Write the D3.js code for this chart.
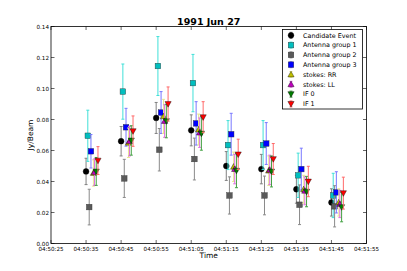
<!DOCTYPE html>
<html>
<head>
<meta charset="utf-8">
<script src="https://cdn.jsdelivr.net/npm/d3@7"></script>
<style>
  body { margin: 0; background: #fff; }
  svg text { font-family: "DejaVu Sans", sans-serif; }
</style>
</head>
<body>
<svg id="chart" width="407" height="271"></svg>
<script>
// seconds after 04:50:00 for each measurement group
var times = [35, 45, 55, 65, 75, 85, 95, 105];
var tickSecs = [25, 35, 45, 55, 65, 75, 85, 95, 105, 115];
var tickLabels = ["04:50:25", "04:50:35", "04:50:45", "04:50:55", "04:51:05",
                  "04:51:15", "04:51:25", "04:51:35", "04:51:45", "04:51:55"];
var yTicks = [0, 0.02, 0.04, 0.06, 0.08, 0.10, 0.12, 0.14];

var names = ["Candidate Event", "Antenna group 1", "Antenna group 2", "Antenna group 3",
             "stokes: RR", "stokes: LL", "IF 0", "IF 1"];

var candVal = [0.0465, 0.066, 0.081, 0.073, 0.050, 0.048, 0.035, 0.0265];
var candErr = [0.0085, 0.0095, 0.010, 0.010, 0.0093, 0.0095, 0.009, 0.0088];
var ant1Val = [0.0695, 0.098, 0.1145, 0.1035, 0.0635, 0.0635, 0.044, 0.031];
var ant1Err = [0.0165, 0.0178, 0.019, 0.0185, 0.0158, 0.0158, 0.0143, 0.0143];
var ant2Val = [0.0235, 0.042, 0.0605, 0.0545, 0.031, 0.031, 0.025, 0.024];
var ant2Err = [0.0115, 0.0123, 0.0137, 0.0135, 0.012, 0.0125, 0.0128, 0.0133];
var ant3Val = [0.0595, 0.075, 0.0845, 0.0775, 0.0705, 0.0645, 0.048, 0.033];
var ant3Err = [0.0108, 0.0122, 0.0135, 0.014, 0.0135, 0.0135, 0.0135, 0.0133];
var rrVal = [0.0455, 0.065, 0.082, 0.0735, 0.0495, 0.047, 0.035, 0.0265];
var rrErr = [0.0085, 0.0095, 0.011, 0.010, 0.0095, 0.0095, 0.009, 0.0088];
var llVal = [0.046, 0.066, 0.079, 0.0715, 0.048, 0.0475, 0.034, 0.0255];
var llErr = [0.0085, 0.0095, 0.0105, 0.0095, 0.0095, 0.0095, 0.009, 0.0088];
var if0Val = [0.0465, 0.0665, 0.079, 0.071, 0.047, 0.0465, 0.0335, 0.0235];
var if0Err = [0.009, 0.0095, 0.0108, 0.0108, 0.011, 0.010, 0.0098, 0.0095];
var if1Val = [0.0535, 0.0725, 0.090, 0.0815, 0.0575, 0.0545, 0.040, 0.0325];
var if1Err = [0.009, 0.0098, 0.011, 0.010, 0.0098, 0.010, 0.0098, 0.0103];

// per-series look: x shift in seconds, marker, fill, errorbar colour
var series = [
  {vals: candVal, errs: candErr, dx: 0.0, sym: "circle",  fill: "#000000", ecol: "#808080"},
  {vals: ant1Val, errs: ant1Err, dx: 0.5, sym: "square",  fill: "#00bfbf", ecol: "#40e0d8"},
  {vals: ant2Val, errs: ant2Err, dx: 0.9, sym: "square",  fill: "#5a5a5a", ecol: "#8a8a8a"},
  {vals: ant3Val, errs: ant3Err, dx: 1.4, sym: "square",  fill: "#0000ff", ecol: "#7878ff"},
  {vals: rrVal,   errs: rrErr,   dx: 2.1, sym: "up",      fill: "#bfbf00", ecol: "#e8e890"},
  {vals: llVal,   errs: llErr,   dx: 2.4, sym: "up",      fill: "#bf00bf", ecol: "#e070e0"},
  {vals: if0Val,  errs: if0Err,  dx: 2.9, sym: "down",    fill: "#007f00", ecol: "#40a040"},
  {vals: if1Val,  errs: if1Err,  dx: 3.4, sym: "down",    fill: "#ff0000", ecol: "#ff6a6a"}
];

var svg = d3.select("#chart");
var pL = 51, pR = 366.5, pT = 26.5, pB = 243.5;

var x = d3.scaleLinear().domain([25, 115]).range([pL, pR]);
var y = d3.scaleLinear().domain([0, 0.14]).range([pB, pT]);

function marker(g, sym, cx, cy, fill) {
  if (sym === "circle") {
    g.append("circle").attr("cx", cx).attr("cy", cy).attr("r", 2.9)
      .attr("fill", fill).attr("stroke", "#000").attr("stroke-width", 0.4);
  } else if (sym === "square") {
    g.append("rect").attr("x", cx - 2.8).attr("y", cy - 2.8).attr("width", 5.6).attr("height", 5.6)
      .attr("fill", fill).attr("stroke", "#333").attr("stroke-width", 0.4);
  } else {
    var s = sym === "up" ? -1 : 1;
    var pts = [[cx, cy + s * 3.2], [cx - 3.1, cy - s * 2.4], [cx + 3.1, cy - s * 2.4]];
    g.append("path").attr("d", d3.line()(pts) + "Z")
      .attr("fill", fill).attr("stroke", "#000").attr("stroke-width", 0.4);
  }
}

function errbar(g, cx, y0, y1, col) {
  g.append("line").attr("x1", cx).attr("x2", cx).attr("y1", y0).attr("y2", y1)
    .attr("stroke", col).attr("stroke-width", 1);
  [y0, y1].forEach(function(yy) {
    g.append("line").attr("x1", cx - 1.5).attr("x2", cx + 1.5).attr("y1", yy).attr("y2", yy)
      .attr("stroke", col).attr("stroke-width", 1);
  });
}

// data
var plot = svg.append("g");
series.forEach(function(s) {
  var g = plot.append("g");
  times.forEach(function(t, i) {
    var cx = x(t + s.dx);
    errbar(g, cx, y(s.vals[i] - s.errs[i]), y(s.vals[i] + s.errs[i]), s.ecol);
  });
  times.forEach(function(t, i) {
    marker(g, s.sym, x(t + s.dx), y(s.vals[i]), s.fill);
  });
});

// frame
svg.append("rect").attr("x", pL).attr("y", pT).attr("width", pR - pL).attr("height", pB - pT)
  .attr("fill", "none").attr("stroke", "#000").attr("stroke-width", 0.8);

// ticks (inward, all four sides)
var ax = svg.append("g");
tickSecs.forEach(function(t, i) {
  var xx = x(t);
  ax.append("line").attr("x1", xx).attr("x2", xx).attr("y1", pB).attr("y2", pB - 3.5).attr("stroke", "#000").attr("stroke-width", 0.6);
  ax.append("line").attr("x1", xx).attr("x2", xx).attr("y1", pT).attr("y2", pT + 3.5).attr("stroke", "#000").attr("stroke-width", 0.6);
  ax.append("text").attr("x", xx).attr("y", pB + 7.5).attr("text-anchor", "middle")
    .attr("font-size", 5.6).text(tickLabels[i]);
});
yTicks.forEach(function(v) {
  var yy = y(v);
  ax.append("line").attr("x1", pL).attr("x2", pL + 3.5).attr("y1", yy).attr("y2", yy).attr("stroke", "#000").attr("stroke-width", 0.6);
  ax.append("line").attr("x1", pR).attr("x2", pR - 3.5).attr("y1", yy).attr("y2", yy).attr("stroke", "#000").attr("stroke-width", 0.6);
  ax.append("text").attr("x", pL - 2).attr("y", yy + 2).attr("text-anchor", "end")
    .attr("font-size", 5.6).text(d3.format(".2f")(v));
});

// labels
svg.append("text").attr("x", (pL + pR) / 2).attr("y", 24.5).attr("text-anchor", "middle")
  .attr("font-size", 9.5).attr("font-weight", "bold").text("1991 Jun 27");
svg.append("text").attr("x", (pL + pR) / 2).attr("y", 258).attr("text-anchor", "middle")
  .attr("font-size", 7.5).text("Time");
svg.append("text").attr("transform", "translate(33," + ((pT + pB) / 2) + ") rotate(-90)")
  .attr("text-anchor", "middle").attr("font-size", 7.5).text("Jy/Beam");

// legend
var lg = svg.append("g");
lg.append("rect").attr("x", 282.5).attr("y", 29.5).attr("width", 80).attr("height", 79.5)
  .attr("fill", "#fff").attr("stroke", "#000").attr("stroke-width", 0.8);
series.forEach(function(s, i) {
  var ly = 35.3 + i * 9.8;
  errbar(lg, 291, ly - 3, ly + 3, s.ecol);
  marker(lg, s.sym, 291, ly, s.fill);
  lg.append("text").attr("x", 303).attr("y", ly + 2.3).attr("font-size", 6.4).text(names[i]);
});
</script>
</body>
</html>
